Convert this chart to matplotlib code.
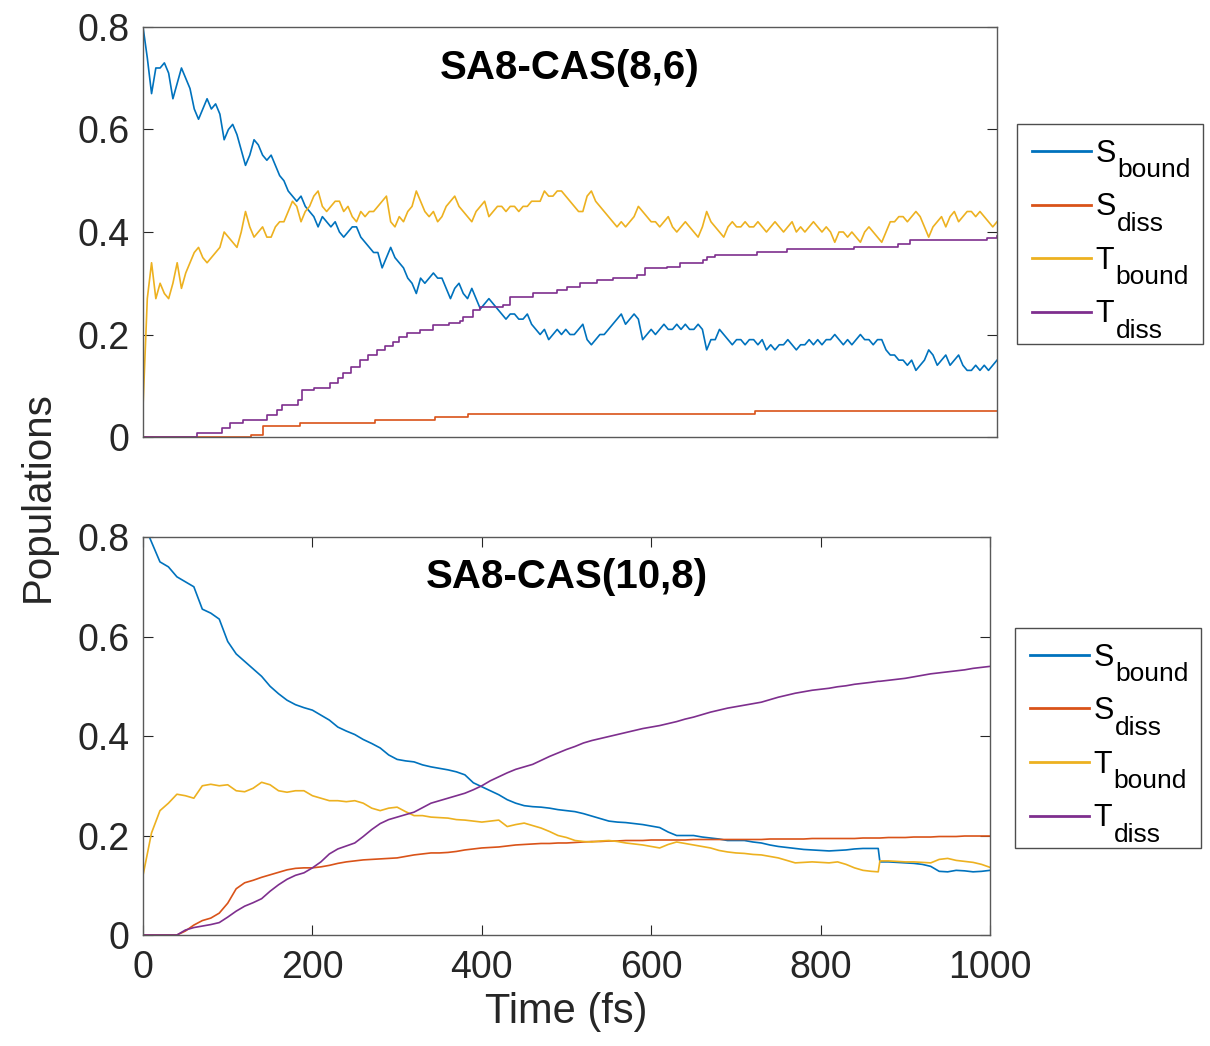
#!/usr/bin/env python3
"""Plot state populations from surface-hopping runs for two active spaces."""
import numpy as np
import matplotlib
matplotlib.use("Agg")
import matplotlib.pyplot as plt
from matplotlib.transforms import IdentityTransform

plt.rcParams["font.family"] = ["Liberation Sans", "DejaVu Sans"]

# MATLAB default colour order
C_SB = "#0072BD"
C_SD = "#D95319"
C_TB = "#EDB120"
C_TD = "#7E2F8E"

# legend entries: state letter and its subscript
STATE_LETTERS = ["S", "S", "T", "T"]
STATE_SUBS = ["bound", "diss", "bound", "diss"]

# ---- SA8-CAS(8,6): populations on a 5 fs grid ----
TIME_A = np.arange(0, 1001, 5)

SBOUND_A = [
    0.80, 0.74, 0.67, 0.72, 0.72, 0.73, 0.71, 0.66, 0.69, 0.72,
    0.70, 0.68, 0.64, 0.62, 0.64, 0.66, 0.64, 0.65, 0.63, 0.58,
    0.60, 0.61, 0.59, 0.56, 0.53, 0.55, 0.58, 0.57, 0.55, 0.54,
    0.55, 0.53, 0.51, 0.50, 0.48, 0.47, 0.46, 0.47, 0.45, 0.44,
    0.43, 0.41, 0.43, 0.42, 0.41, 0.42, 0.40, 0.39, 0.40, 0.41,
    0.41, 0.39, 0.38, 0.37, 0.36, 0.36, 0.33, 0.35, 0.37, 0.35,
    0.34, 0.33, 0.31, 0.30, 0.28, 0.31, 0.30, 0.31, 0.32, 0.31,
    0.31, 0.29, 0.27, 0.29, 0.30, 0.28, 0.27, 0.29, 0.27, 0.25,
    0.26, 0.27, 0.26, 0.25, 0.24, 0.23, 0.24, 0.24, 0.23, 0.23,
    0.24, 0.22, 0.21, 0.20, 0.21, 0.19, 0.20, 0.21, 0.20, 0.21,
    0.20, 0.20, 0.21, 0.22, 0.19, 0.18, 0.19, 0.20, 0.20, 0.21,
    0.22, 0.23, 0.24, 0.22, 0.23, 0.24, 0.23, 0.19, 0.20, 0.21,
    0.20, 0.21, 0.22, 0.21, 0.21, 0.22, 0.21, 0.22, 0.21, 0.21,
    0.22, 0.21, 0.17, 0.19, 0.19, 0.21, 0.20, 0.19, 0.18, 0.19,
    0.19, 0.18, 0.19, 0.19, 0.18, 0.19, 0.17, 0.18, 0.17, 0.18,
    0.18, 0.19, 0.18, 0.17, 0.18, 0.18, 0.19, 0.18, 0.19, 0.18,
    0.19, 0.19, 0.20, 0.19, 0.18, 0.19, 0.18, 0.19, 0.20, 0.19,
    0.19, 0.18, 0.19, 0.19, 0.17, 0.16, 0.16, 0.15, 0.15, 0.14,
    0.15, 0.13, 0.14, 0.15, 0.17, 0.16, 0.14, 0.15, 0.16, 0.14,
    0.15, 0.16, 0.14, 0.13, 0.13, 0.14, 0.13, 0.14, 0.13, 0.14,
    0.15,
]

TBOUND_A = [
    0.06, 0.27, 0.34, 0.27, 0.30, 0.28, 0.27, 0.30, 0.34, 0.29,
    0.32, 0.34, 0.36, 0.37, 0.35, 0.34, 0.35, 0.36, 0.37, 0.40,
    0.39, 0.38, 0.37, 0.40, 0.44, 0.41, 0.39, 0.40, 0.41, 0.39,
    0.39, 0.41, 0.42, 0.42, 0.44, 0.46, 0.45, 0.42, 0.44, 0.45,
    0.47, 0.48, 0.45, 0.44, 0.45, 0.46, 0.46, 0.44, 0.45, 0.43,
    0.42, 0.44, 0.43, 0.44, 0.44, 0.45, 0.46, 0.47, 0.42, 0.41,
    0.43, 0.42, 0.44, 0.45, 0.48, 0.46, 0.44, 0.43, 0.44, 0.42,
    0.43, 0.45, 0.46, 0.47, 0.45, 0.44, 0.43, 0.42, 0.44, 0.45,
    0.46, 0.43, 0.44, 0.45, 0.45, 0.44, 0.45, 0.45, 0.44, 0.45,
    0.45, 0.46, 0.46, 0.46, 0.48, 0.47, 0.47, 0.48, 0.48, 0.47,
    0.46, 0.45, 0.44, 0.44, 0.47, 0.48, 0.46, 0.45, 0.44, 0.43,
    0.42, 0.41, 0.42, 0.41, 0.42, 0.43, 0.45, 0.44, 0.43, 0.42,
    0.42, 0.41, 0.42, 0.43, 0.41, 0.40, 0.41, 0.42, 0.41, 0.40,
    0.39, 0.41, 0.44, 0.42, 0.41, 0.40, 0.39, 0.41, 0.42, 0.41,
    0.41, 0.42, 0.41, 0.41, 0.42, 0.41, 0.40, 0.41, 0.42, 0.41,
    0.40, 0.41, 0.42, 0.40, 0.41, 0.40, 0.41, 0.42, 0.41, 0.40,
    0.41, 0.40, 0.38, 0.40, 0.40, 0.39, 0.40, 0.39, 0.38, 0.40,
    0.41, 0.40, 0.39, 0.38, 0.40, 0.42, 0.42, 0.43, 0.43, 0.42,
    0.43, 0.44, 0.43, 0.41, 0.39, 0.41, 0.42, 0.43, 0.41, 0.43,
    0.44, 0.42, 0.43, 0.44, 0.44, 0.43, 0.44, 0.43, 0.42, 0.41,
    0.42,
]

# dissociated populations only change when a trajectory breaks up
SDISS_A_T = [0, 127, 140, 184, 272, 342, 381, 717, 1000]
SDISS_A = [0.0, 0.004, 0.022, 0.027, 0.033, 0.039, 0.045, 0.051, 0.051]

TDISS_A_T = [
    0, 63, 92, 102, 117, 145, 157, 163, 182, 186,
    200, 219, 228, 234, 244, 254, 264, 274, 283, 293,
    300, 309, 324, 339, 358, 371, 375, 386, 395, 422,
    430, 457, 485, 496, 512, 531, 550, 578, 588, 613,
    629, 656, 660, 670, 719, 754, 832, 884, 898, 988,
    1000,
]
TDISS_A = [
    0.0, 0.008, 0.018, 0.027, 0.033, 0.043, 0.053, 0.062, 0.072, 0.092,
    0.095, 0.105, 0.115, 0.125, 0.137, 0.150, 0.160, 0.170, 0.178, 0.185,
    0.195, 0.203, 0.209, 0.218, 0.222, 0.226, 0.234, 0.248, 0.254, 0.258,
    0.273, 0.281, 0.287, 0.293, 0.300, 0.306, 0.310, 0.316, 0.330, 0.332,
    0.340, 0.345, 0.351, 0.355, 0.361, 0.367, 0.371, 0.377, 0.385, 0.388,
    0.392,
]

# ---- SA8-CAS(10,8): 10 fs grid plus the frame just before the jump at 870 fs ----
TIME_B = np.concatenate([np.arange(0, 870, 10), [868], np.arange(870, 1001, 10)])

SBOUND_B = [
    0.83, 0.79, 0.75, 0.74, 0.72, 0.71, 0.70, 0.655, 0.647, 0.635,
    0.59, 0.565, 0.55, 0.535, 0.52, 0.50, 0.485, 0.472, 0.463, 0.457,
    0.452, 0.442, 0.432, 0.418, 0.41, 0.403, 0.393, 0.385, 0.376, 0.362,
    0.353, 0.350, 0.348, 0.342, 0.338, 0.335, 0.332, 0.328, 0.322, 0.306,
    0.298, 0.290, 0.282, 0.272, 0.265, 0.260, 0.258, 0.257, 0.255, 0.252,
    0.250, 0.248, 0.244, 0.239, 0.234, 0.229, 0.227, 0.226, 0.224, 0.222,
    0.219, 0.216, 0.207, 0.200, 0.200, 0.200, 0.197, 0.195, 0.193, 0.190,
    0.190, 0.190, 0.187, 0.185, 0.181, 0.178, 0.176, 0.174, 0.172, 0.171,
    0.170, 0.169, 0.170, 0.171, 0.173, 0.174, 0.174, 0.174,
    0.147, 0.147, 0.146, 0.145, 0.144, 0.142, 0.138, 0.128, 0.127, 0.130,
    0.129, 0.127, 0.128, 0.130,
]

SDISS_B = [
    0.0, 0.0, 0.0, 0.0, 0.0, 0.008, 0.020, 0.029, 0.034, 0.044,
    0.064, 0.093, 0.105, 0.110, 0.116, 0.121, 0.126, 0.131, 0.134, 0.135,
    0.135, 0.137, 0.140, 0.144, 0.147, 0.149, 0.151, 0.152, 0.153, 0.154,
    0.155, 0.158, 0.161, 0.163, 0.165, 0.165, 0.166, 0.168, 0.171, 0.173,
    0.175, 0.176, 0.177, 0.179, 0.181, 0.182, 0.183, 0.184, 0.184, 0.185,
    0.185, 0.186, 0.187, 0.188, 0.188, 0.189, 0.189, 0.190, 0.190, 0.190,
    0.191, 0.191, 0.191, 0.191, 0.191, 0.192, 0.192, 0.192, 0.192, 0.192,
    0.192, 0.192, 0.192, 0.192, 0.193, 0.193, 0.193, 0.193, 0.193, 0.194,
    0.194, 0.194, 0.194, 0.194, 0.194, 0.195, 0.195, 0.195,
    0.195, 0.196, 0.196, 0.196, 0.197, 0.197, 0.197, 0.198, 0.198, 0.198,
    0.199, 0.199, 0.199, 0.199,
]

TBOUND_B = [
    0.12, 0.205, 0.25, 0.265, 0.283, 0.28, 0.275, 0.30, 0.303, 0.30,
    0.302, 0.29, 0.288, 0.295, 0.307, 0.302, 0.29, 0.287, 0.29, 0.29,
    0.28, 0.275, 0.27, 0.27, 0.268, 0.27, 0.265, 0.255, 0.25, 0.255,
    0.257, 0.248, 0.24, 0.24, 0.237, 0.236, 0.235, 0.232, 0.231, 0.229,
    0.227, 0.229, 0.231, 0.218, 0.222, 0.225, 0.22, 0.215, 0.208, 0.20,
    0.196, 0.19, 0.188, 0.187, 0.189, 0.19, 0.188, 0.185, 0.183, 0.181,
    0.178, 0.175, 0.182, 0.187, 0.184, 0.181, 0.178, 0.175, 0.17, 0.167,
    0.165, 0.164, 0.162, 0.161, 0.158, 0.155, 0.150, 0.145, 0.146, 0.147,
    0.146, 0.145, 0.147, 0.142, 0.135, 0.13, 0.128, 0.127,
    0.149, 0.149, 0.148, 0.147, 0.147, 0.146, 0.145, 0.152, 0.154, 0.150,
    0.148, 0.146, 0.142, 0.136,
]

TDISS_B = [
    0.0, 0.0, 0.0, 0.0, 0.0, 0.010, 0.015, 0.018, 0.021, 0.025,
    0.036, 0.048, 0.058, 0.065, 0.073, 0.088, 0.101, 0.112, 0.120, 0.125,
    0.135, 0.147, 0.163, 0.173, 0.179, 0.185, 0.198, 0.212, 0.224, 0.232,
    0.237, 0.242, 0.247, 0.256, 0.265, 0.270, 0.275, 0.280, 0.285, 0.292,
    0.300, 0.310, 0.318, 0.326, 0.333, 0.338, 0.343, 0.351, 0.359, 0.366,
    0.373, 0.379, 0.386, 0.391, 0.395, 0.399, 0.403, 0.407, 0.411, 0.415,
    0.418, 0.421, 0.425, 0.429, 0.434, 0.438, 0.443, 0.448, 0.452, 0.456,
    0.459, 0.462, 0.465, 0.468, 0.473, 0.478, 0.482, 0.486, 0.489, 0.492,
    0.494, 0.496, 0.499, 0.501, 0.504, 0.506, 0.508, 0.510,
    0.510, 0.512, 0.514, 0.516, 0.519, 0.522, 0.525, 0.527, 0.529, 0.531,
    0.533, 0.536, 0.538, 0.540,
]

Y_TICKS = [0, 0.2, 0.4, 0.6, 0.8]
Y_TICKLABELS = ["0", "0.2", "0.4", "0.6", "0.8"]
X_TICKS = [0, 200, 400, 600, 800, 1000]

AXIS_GREY = "0.15"
LEG_FONT = 22
SUB_FONT = 19


def style_axes(ax, show_x):
    ax.set_xlim(0, 1000)
    ax.set_ylim(0, 0.8)
    ax.set_yticks(Y_TICKS)
    ax.set_yticklabels(Y_TICKLABELS)
    if show_x:
        ax.set_xticks(X_TICKS)
        ax.set_xticklabels([str(x) for x in X_TICKS])
    else:
        ax.set_xticks([])
    ax.tick_params(direction="in", length=7, width=0.8, color=AXIS_GREY,
                   labelcolor=AXIS_GREY, labelsize=27, top=show_x, right=True)
    ax.tick_params(axis="y", pad=10)
    ax.tick_params(axis="x", pad=11)
    for sp in ax.spines.values():
        sp.set_color("0.35")
        sp.set_linewidth(1.0)


def add_legend(fig, ax, x0, y_top):
    # fixed-width box; the subscripts are added once the layout is known
    width = 186 / 1210
    leg = fig.legend(
        ax.get_lines(), STATE_LETTERS,
        loc="upper left",
        bbox_to_anchor=(x0, y_top - 0.4, width, 0.4),
        bbox_transform=fig.transFigure,
        mode="expand",
        fontsize=LEG_FONT,
        handlelength=1.95,
        handletextpad=0.15,
        labelspacing=0.77,
        borderpad=0.48,
        borderaxespad=0,
        fancybox=False,
        framealpha=1.0,
    )
    leg.get_frame().set_edgecolor("0.3")
    leg.get_frame().set_linewidth(1.0)
    for line in leg.get_lines():
        line.set_linewidth(2.0)
    return leg


def add_subscripts(fig, leg):
    px = LEG_FONT * fig.dpi / 72.0
    for txt, sub in zip(leg.get_texts(), STATE_SUBS):
        bb = txt.get_window_extent()
        baseline = bb.y0 + 0.21 * px
        fig.text(bb.x1 + 1, baseline - 15, sub, transform=IdentityTransform(),
                 ha="left", va="baseline", fontsize=SUB_FONT, color="black",
                 zorder=10)


def main():
    fig = plt.figure(figsize=(12.10, 10.46), dpi=100)
    ax_a = fig.add_axes([0.1182, 0.5822, 0.7058, 0.3920])
    ax_b = fig.add_axes([0.1182, 0.1061, 0.7000, 0.3805])

    lw = 1.2
    ax_a.plot(TIME_A, SBOUND_A, color=C_SB, lw=lw)
    ax_a.step(SDISS_A_T, SDISS_A, where="post", color=C_SD, lw=lw)
    ax_a.plot(TIME_A, TBOUND_A, color=C_TB, lw=lw)
    ax_a.step(TDISS_A_T, TDISS_A, where="post", color=C_TD, lw=lw)

    ax_b.plot(TIME_B, SBOUND_B, color=C_SB, lw=lw)
    ax_b.plot(TIME_B, SDISS_B, color=C_SD, lw=lw)
    ax_b.plot(TIME_B, TBOUND_B, color=C_TB, lw=lw)
    ax_b.plot(TIME_B, TDISS_B, color=C_TD, lw=lw)

    style_axes(ax_a, show_x=False)
    style_axes(ax_b, show_x=True)

    ax_a.text(500, 0.72, "SA8-CAS(8,6)", ha="center", va="center",
              fontsize=29, fontweight="bold")
    ax_b.text(500, 0.72, "SA8-CAS(10,8)", ha="center", va="center",
              fontsize=29, fontweight="bold")

    ax_b.set_xlabel("Time (fs)", fontsize=30, color=AXIS_GREY, labelpad=4)
    fig.text(0.031, 1 - 497 / 1046, "Populations", rotation=90,
             ha="center", va="center", fontsize=29, color=AXIS_GREY)

    leg_a = add_legend(fig, ax_a, 1017 / 1210, 1 - 124 / 1046)
    leg_b = add_legend(fig, ax_b, 1015 / 1210, 1 - 628 / 1046)

    fig.canvas.draw()
    add_subscripts(fig, leg_a)
    add_subscripts(fig, leg_b)

    fig.savefig("out.png", dpi=100)
    plt.close(fig)


if __name__ == "__main__":
    main()
